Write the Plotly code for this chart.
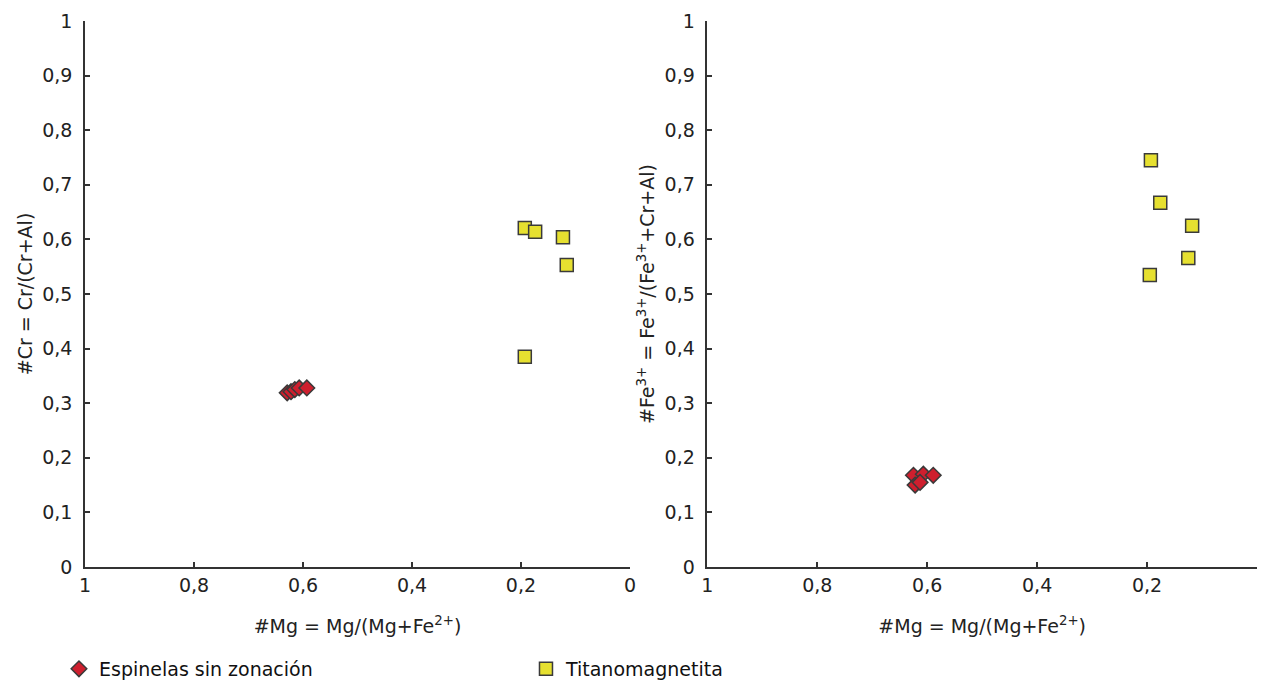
import plotly.graph_objects as go

# Left panel: #Cr vs #Mg
esp_mg_left = [0.629, 0.622, 0.615, 0.607, 0.593]
esp_cr = [0.319, 0.321, 0.325, 0.328, 0.328]
tim_mg_left = [0.193, 0.174, 0.123, 0.116, 0.193]
tim_cr = [0.621, 0.614, 0.604, 0.553, 0.385]

# Right panel: #Fe3+ vs #Mg
esp_mg_right = [0.625, 0.607, 0.589, 0.622, 0.613]
esp_fe3 = [0.168, 0.170, 0.168, 0.150, 0.155]
tim_mg_right = [0.193, 0.176, 0.118, 0.125, 0.195]
tim_fe3 = [0.745, 0.667, 0.625, 0.566, 0.535]

y_ticks = [0, 0.1, 0.2, 0.3, 0.4, 0.5, 0.6, 0.7, 0.8, 0.9, 1]
x_ticks = [1, 0.8, 0.6, 0.4, 0.2, 0]
x_ticktext_left = ["1", "0,8", "0,6", "0,4", "0,2", "0"]
x_ticktext_right = ["1", "0,8", "0,6", "0,4", "0,2", ""]

RED = "#CE1F2E"
YEL = "#E6E030"
EDGE = "#3a3a3a"
FONT = "DejaVu Sans, Liberation Sans, Arial, sans-serif"
FS = 19

fig = go.Figure()

fig.add_trace(go.Scatter(x=esp_mg_left, y=esp_cr, mode="markers", name="Espinelas sin zonación",
                         marker=dict(symbol="diamond", size=12, color=RED, line=dict(color=EDGE, width=1.5)),
                         xaxis="x", yaxis="y", legendgroup="esp"))
fig.add_trace(go.Scatter(x=tim_mg_left, y=tim_cr, mode="markers", name="Titanomagnetita",
                         marker=dict(symbol="square", size=13, color=YEL, line=dict(color=EDGE, width=1.5)),
                         xaxis="x", yaxis="y", legendgroup="tim"))
fig.add_trace(go.Scatter(x=esp_mg_right, y=esp_fe3, mode="markers", name="Espinelas sin zonación",
                         marker=dict(symbol="diamond", size=12, color=RED, line=dict(color=EDGE, width=1.5)),
                         xaxis="x2", yaxis="y2", legendgroup="esp", showlegend=False))
fig.add_trace(go.Scatter(x=tim_mg_right, y=tim_fe3, mode="markers", name="Titanomagnetita",
                         marker=dict(symbol="square", size=13, color=YEL, line=dict(color=EDGE, width=1.5)),
                         xaxis="x2", yaxis="y2", legendgroup="tim", showlegend=False))

axis_common = dict(showline=True, linecolor="#333", linewidth=1.5, ticks="inside", ticklen=5,
                   tickwidth=1.5, tickcolor="#333", showgrid=False, zeroline=False,
                   tickfont=dict(size=FS, color="#222", family=FONT))

fig.update_layout(
    width=1258, height=682,
    paper_bgcolor="white", plot_bgcolor="white",
    separators=", ",
    font=dict(family=FONT, color="#222", size=FS),
    margin=dict(l=77, r=9, t=13, b=123, autoexpand=False),
    xaxis=dict(domain=[0, 0.465], range=[1, 0], tickvals=x_ticks, ticktext=x_ticktext_left,
               ticklabelstandoff=0,
               title=dict(text="#Mg = Mg/(Mg+Fe<sup>2+</sup>)", font=dict(size=FS, family=FONT), standoff=25),
               anchor="y", **axis_common),
    yaxis=dict(domain=[0, 1], range=[0, 1], tickvals=y_ticks, ticklabelstandoff=7,
               title=dict(text="#Cr = Cr/(Cr+Al)", font=dict(size=FS, family=FONT), standoff=5),
               anchor="x", **axis_common),
    xaxis2=dict(domain=[0.531, 1], range=[1, 0], tickvals=x_ticks, ticktext=x_ticktext_right,
                ticklabelstandoff=0,
                title=dict(text="#Mg = Mg/(Mg+Fe<sup>2+</sup>)", font=dict(size=FS, family=FONT), standoff=25),
                anchor="y2", **axis_common),
    yaxis2=dict(domain=[0, 1], range=[0, 1], tickvals=y_ticks, ticklabelstandoff=7,
                title=dict(text="#Fe<sup>3+</sup> = Fe<sup>3+</sup>/(Fe<sup>3+</sup>+Cr+Al)",
                           font=dict(size=FS, family=FONT), standoff=5),
                anchor="x2", **axis_common),
    legend=dict(orientation="h", x=-0.0222, y=-0.2216, xanchor="left", yanchor="bottom",
                entrywidth=422, entrywidthmode="pixels",
                font=dict(size=FS, color="#111", family=FONT), bgcolor="rgba(0,0,0,0)"),
)

fig.write_html("out.html")
